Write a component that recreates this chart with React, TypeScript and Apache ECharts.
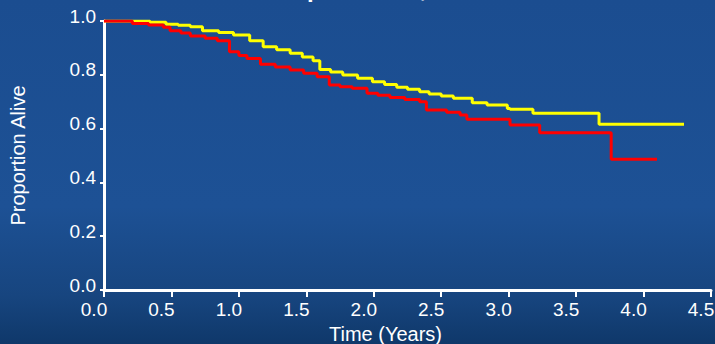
import React, { useEffect, useRef } from "react";
import * as echarts from "echarts";

// Kaplan–Meier survival estimates (time in years, proportion alive)
const yellowTimes = [0, 0.34, 0.46, 0.55, 0.64, 0.73, 0.85, 0.96, 1.08, 1.18, 1.28, 1.38, 1.47, 1.55, 1.6, 1.68, 1.77, 1.88, 1.99, 2.08, 2.17, 2.25, 2.34, 2.41, 2.5, 2.59, 2.73, 2.84, 2.99, 3.01, 3.18, 3.67, 4.3];
const yellowSurvival = [1.0, 0.995, 0.988, 0.984, 0.979, 0.964, 0.957, 0.948, 0.927, 0.904, 0.893, 0.88, 0.866, 0.852, 0.82, 0.81, 0.799, 0.787, 0.774, 0.764, 0.754, 0.746, 0.737, 0.729, 0.721, 0.713, 0.696, 0.688, 0.675, 0.672, 0.657, 0.616, 0.616];

const redTimes = [0, 0.21, 0.33, 0.44, 0.49, 0.57, 0.64, 0.75, 0.84, 0.93, 1.0, 1.06, 1.16, 1.27, 1.38, 1.48, 1.58, 1.67, 1.75, 1.84, 1.95, 2.03, 2.12, 2.23, 2.34, 2.39, 2.54, 2.64, 2.69, 3.01, 3.23, 3.76, 4.1];
const redSurvival = [1.0, 0.991, 0.985, 0.977, 0.964, 0.955, 0.944, 0.936, 0.927, 0.886, 0.872, 0.861, 0.839, 0.829, 0.818, 0.806, 0.793, 0.762, 0.756, 0.75, 0.731, 0.724, 0.716, 0.708, 0.7, 0.669, 0.661, 0.651, 0.635, 0.613, 0.585, 0.486, 0.486];

const xTitle = "Time (Years)";
const yTitle = "Proportion Alive";
const headline = "p\u2082 = 0.032,";

const FONT = '"Liberation Sans", Arial, Helvetica, sans-serif';

const pairs = (ts: number[], vs: number[]) => ts.map((t, i) => [t, vs[i]]);

export default function App() {
  const ref = useRef<HTMLDivElement>(null);

  useEffect(() => {
    document.body.style.margin = "0";
    if (!ref.current) return;
    const chart = echarts.init(ref.current, null, { renderer: "svg" });
    chart.setOption({
      animation: false,
      backgroundColor: new echarts.graphic.LinearGradient(0, 0, 0, 1, [
        { offset: 0, color: "#1b4d90" },
        { offset: 0.6, color: "#1d5195" },
        { offset: 0.86, color: "#17457f" },
        { offset: 1, color: "#0f386a" },
      ]),
      graphic: [
        {
          type: "text",
          x: 307,
          y: 0,
          style: {
            text: headline,
            fill: "#ffffff",
            font: `bold 24px ${FONT}`,
            verticalAlign: "bottom",
          },
        },
      ],
      grid: { left: 104, right: 4, top: 21, bottom: 54, outerBoundsMode: "none", containLabel: false },
      xAxis: {
        type: "value",
        min: 0,
        max: 4.5,
        interval: 0.5,
        name: xTitle,
        nameLocation: "middle",
        nameGap: 31,
        nameTextStyle: { color: "#ffffff", fontSize: 20, fontFamily: FONT, padding: [0, 44, 0, 0] },
        axisLine: { show: true, onZero: false, lineStyle: { color: "#ffffff", width: 3 } },
        axisTick: { show: true, inside: false, length: 7, lineStyle: { color: "#ffffff", width: 2 } },
        axisLabel: {
          color: "#ffffff",
          fontSize: 19,
          fontFamily: FONT,
          margin: 10,
          padding: [0, 20, 0, 0],
          formatter: (v: number) => v.toFixed(1),
        },
        splitLine: { show: false },
      },
      yAxis: {
        type: "value",
        min: 0,
        max: 1,
        interval: 0.2,
        name: yTitle,
        nameLocation: "middle",
        nameGap: 76,
        nameTextStyle: { color: "#ffffff", fontSize: 20, fontFamily: FONT },
        axisLine: { show: true, lineStyle: { color: "#ffffff", width: 3 } },
        axisTick: { show: true, inside: false, length: 4, lineStyle: { color: "#ffffff", width: 2 } },
        axisLabel: {
          color: "#ffffff",
          fontSize: 19,
          fontFamily: FONT,
          margin: 8,
          verticalAlign: "bottom",
          lineHeight: 10,
          formatter: (v: number) => v.toFixed(1),
        },
        splitLine: { show: false },
      },
      series: [
        {
          type: "line",
          step: "end",
          data: pairs(yellowTimes, yellowSurvival),
          symbol: "none",
          lineStyle: { color: "#ffff00", width: 3 },
        },
        {
          type: "line",
          step: "end",
          data: pairs(redTimes, redSurvival),
          symbol: "none",
          lineStyle: { color: "#ff0000", width: 3 },
        },
      ],
    });
    return () => chart.dispose();
  }, []);

  return <div ref={ref} style={{ width: 715, height: 344 }} />;
}
